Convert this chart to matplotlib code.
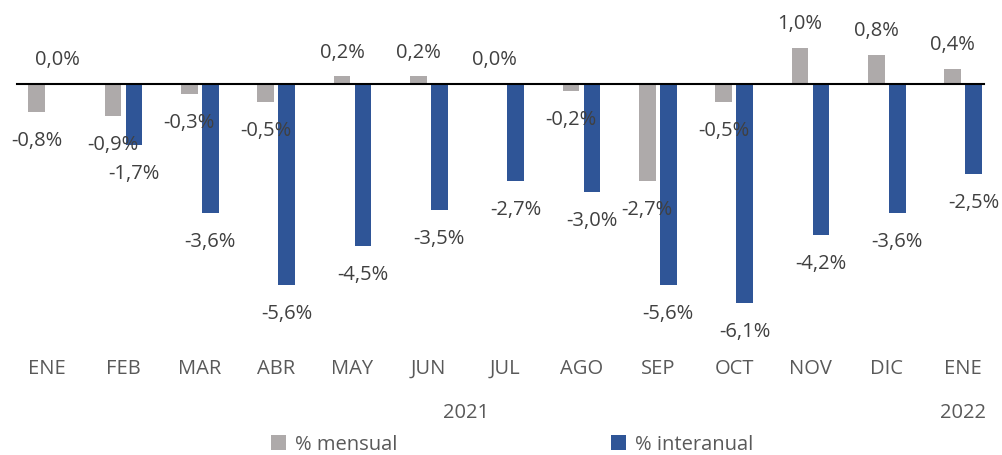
import matplotlib
matplotlib.use('Agg')
import matplotlib.pyplot as plt
import numpy as np

plt.rcParams['font.family'] = ['Open Sans', 'DejaVu Sans']

# datos
meses = ['ENE', 'FEB', 'MAR', 'ABR', 'MAY', 'JUN', 'JUL', 'AGO', 'SEP', 'OCT', 'NOV', 'DIC', 'ENE']
mensual = [-0.8, -0.9, -0.3, -0.5, 0.2, 0.2, 0.0, -0.2, -2.7, -0.5, 1.0, 0.8, 0.4]
interanual = [0.0, -1.7, -3.6, -5.6, -4.5, -3.5, -2.7, -3.0, -5.6, -6.1, -4.2, -3.6, -2.5]
anios = ['2021', '2022']

c_gris = '#AEAAAA'
c_azul = '#2F5597'
c_txt = '#404040'
c_eje = '#595959'

W, H = 1003, 455
fig = plt.figure(figsize=(W / 100, H / 100), dpi=100)
bot_px = 345
ax = fig.add_axes([0, (H - bot_px) / H, 1, bot_px / H])

x = np.arange(len(meses))
ancho = 0.219
desp = 0.1376

b1 = ax.bar(x - desp, mensual, ancho, color=c_gris, label='% mensual')
b2 = ax.bar(x + desp, interanual, ancho, color=c_azul, label='% interanual')

def etiquetas(xs, vals):
    for xi, v in zip(xs, vals):
        txt = f'{v:.1f}'.replace('.', ',') + '%'
        if v >= 0:
            off = 17
        else:
            off = -21
        ax.annotate(txt, (xi, v), xytext=(0, off), textcoords='offset points',
                    ha='center', va='center', fontsize=14.5, color=c_txt)

etiquetas(x - desp, mensual)
etiquetas(x + desp, interanual)

# escala en pixeles
px0 = 47.15
paso = 76.33
ax.set_xlim((0 - px0) / paso, (W - px0) / paso)
escala = 36.0
y0 = 83.5
ax.set_ylim((y0 - bot_px) / escala, y0 / escala)

ax.axhline(0, xmin=17 / W, xmax=984 / W, color='black', lw=1.5)

ax.set_xticks(x)
ax.set_xticklabels(meses, fontsize=14.5, color=c_eje)
ax.tick_params(axis='x', length=0, pad=10)
ax.set_yticks([])
for s in ax.spines.values():
    s.set_visible(False)

fig.text(466 / W, 1 - 413 / H, anios[0], ha='center', va='center', fontsize=14.5, color=c_eje)
fig.text(963 / W, 1 - 413 / H, anios[1], ha='center', va='center', fontsize=14.5, color=c_eje)

fig.legend(handles=[b1, b2], loc='center', bbox_to_anchor=(512.5 / W, 1 - 444.5 / H),
           ncol=2, frameon=False, fontsize=14.5, labelcolor=c_eje,
           handlelength=0.75, handleheight=0.75, handletextpad=0.45, columnspacing=10.6)

fig.savefig('out.png', dpi=100)
